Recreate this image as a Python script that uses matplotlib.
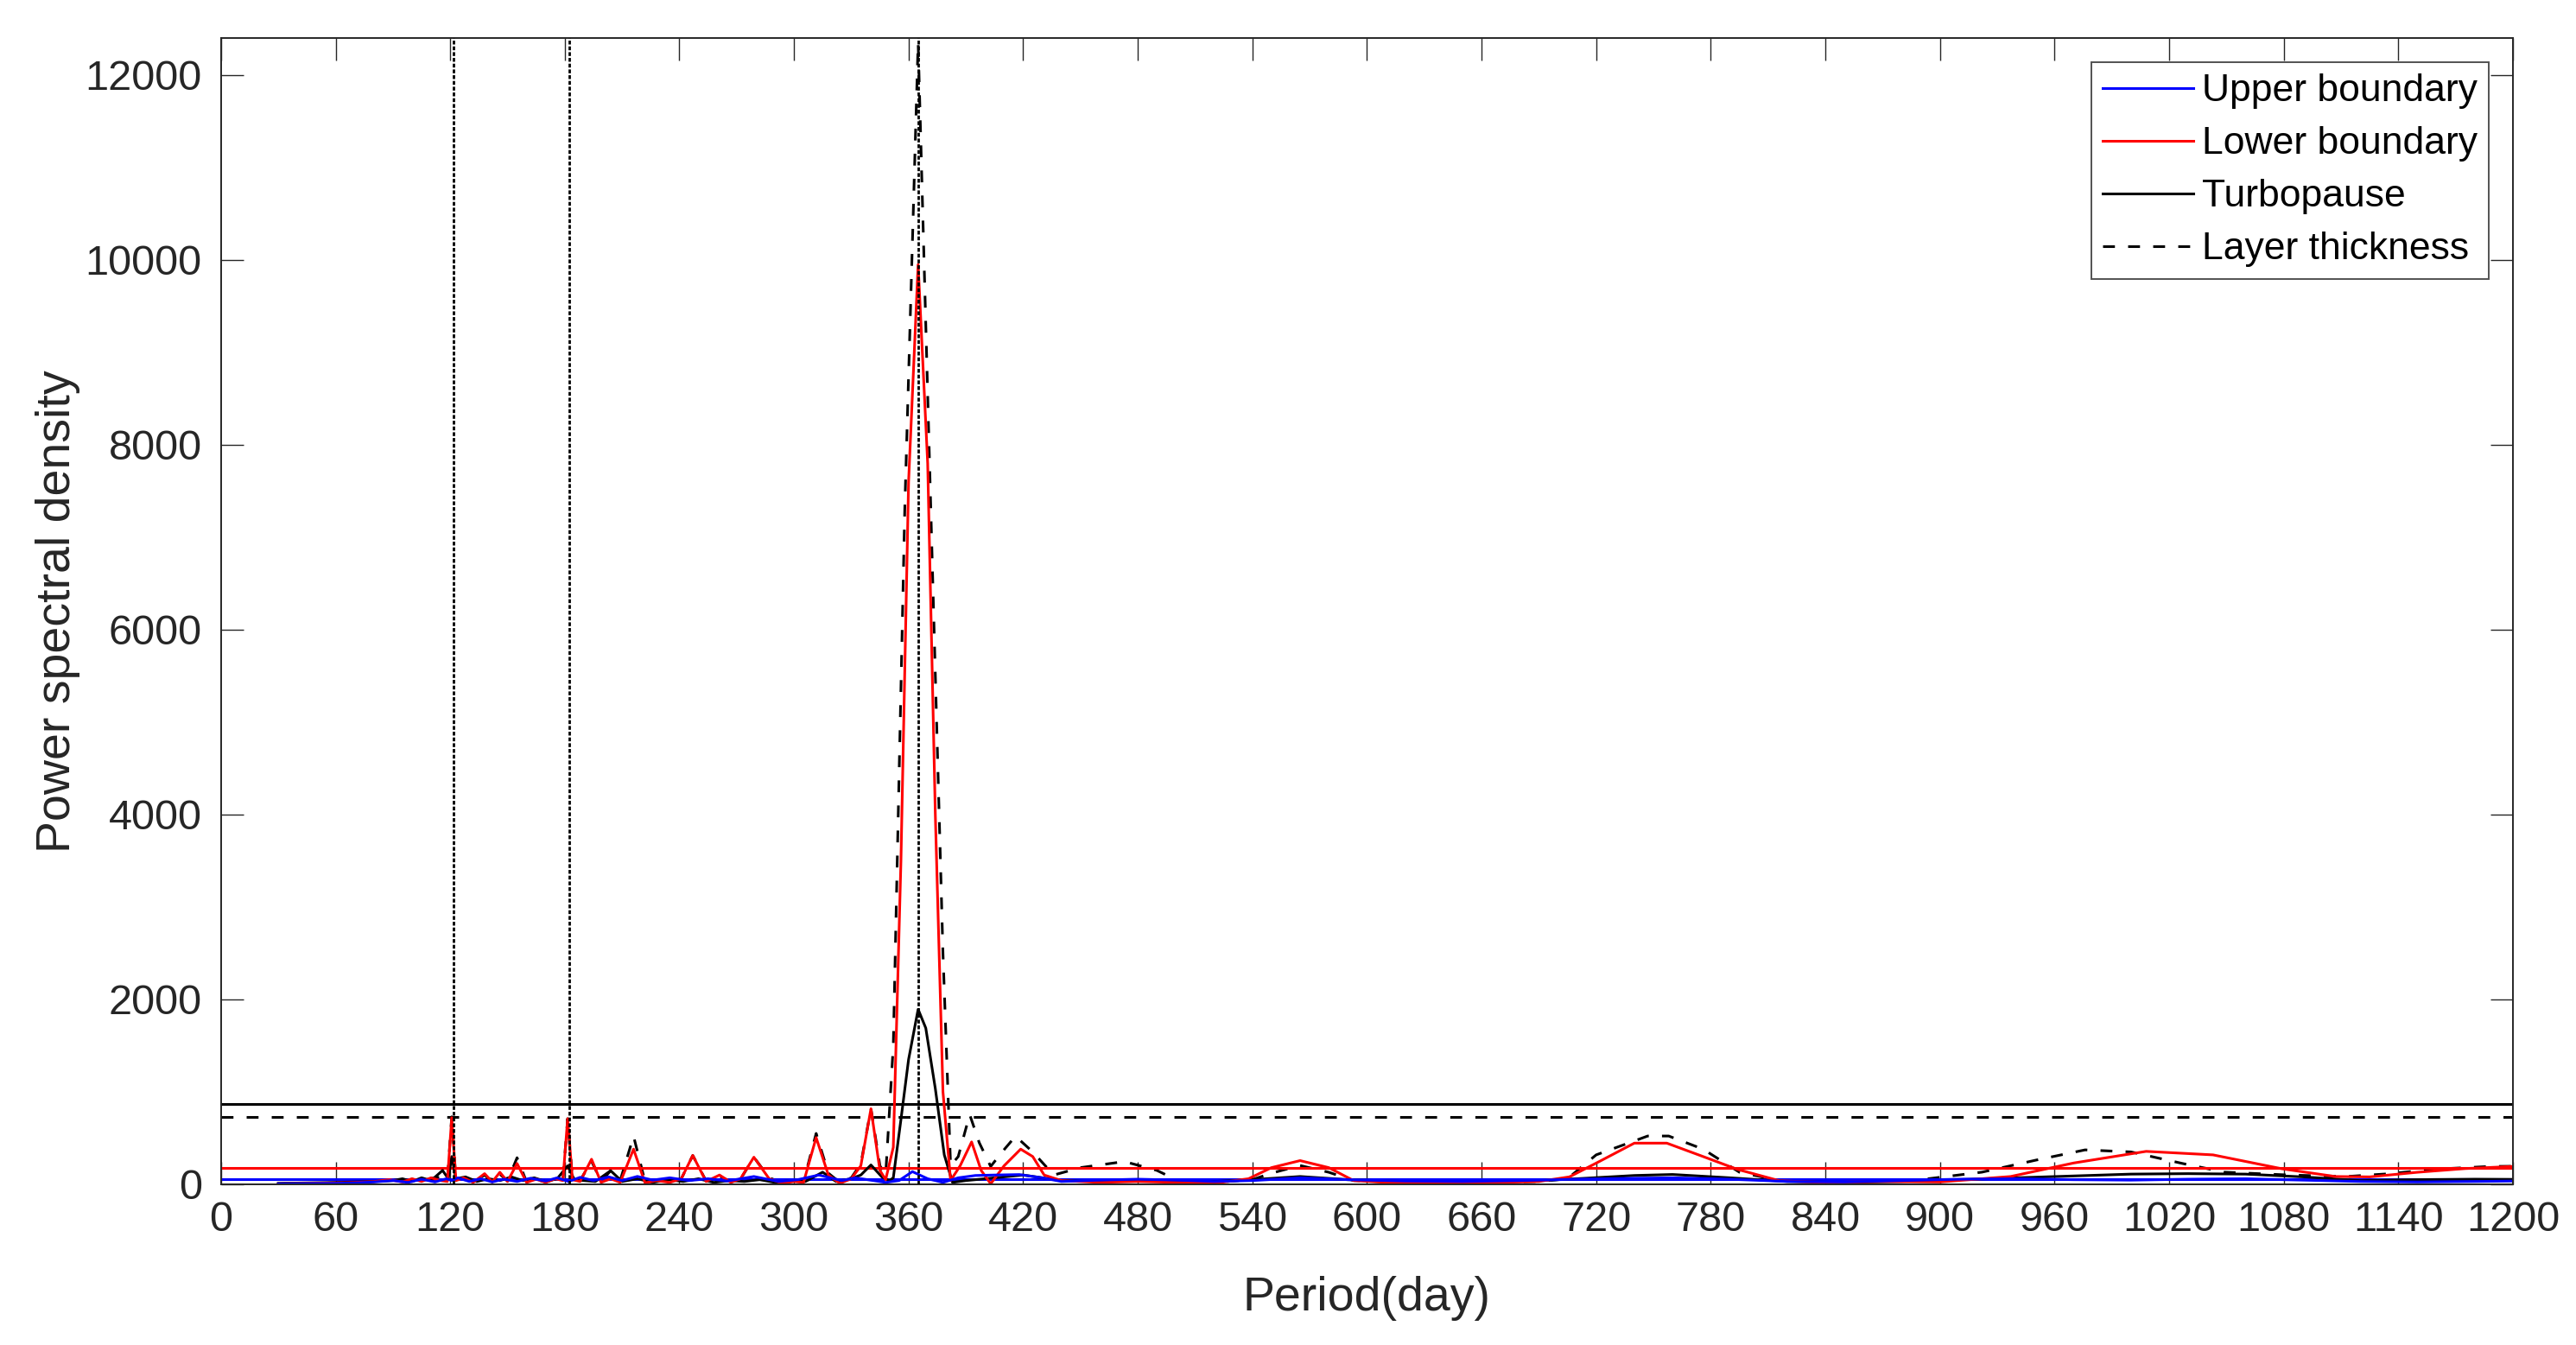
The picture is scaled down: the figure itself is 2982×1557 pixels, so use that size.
import matplotlib.pyplot as plt

plt.rcParams['font.family'] = ['Liberation Sans', 'DejaVu Sans']

# Upper boundary
ub_period = [30, 45, 60, 70, 80, 90, 98, 105, 112, 118, 121, 124, 130, 136, 142, 148, 155, 162, 170, 176,
             182, 188, 195, 203, 210, 218, 226, 235, 245, 255, 265, 279, 292, 302, 313, 325, 332, 340, 348,
             355, 362, 370, 378, 386, 395, 405, 418, 430, 440, 460, 480, 500, 520, 540, 565, 590, 620, 650,
             680, 710, 740, 760, 790, 820, 850, 880, 910, 940, 970, 1000, 1030, 1060, 1090, 1120, 1150,
             1180, 1200]
ub_psd = [5, 8, 10, 15, 25, 40, 20, 55, 25, 60, 40, 70, 30, 60, 25, 55, 30, 65, 35, 70,
          30, 75, 40, 80, 40, 85, 45, 70, 40, 60, 35, 84, 30, 50, 100, 40, 70, 45, 20,
          40, 137, 60, 20, 70, 95, 100, 105, 70, 30, 45, 55, 45, 30, 40, 70, 50, 35, 30,
          40, 55, 65, 70, 55, 30, 25, 40, 55, 60, 50, 45, 55, 60, 45, 30, 25,
          30, 35]

# Lower boundary
lb_period = [30, 45, 60, 70, 80, 88, 95, 100, 105, 110, 115, 118.5, 120.8, 123, 127, 132, 138, 142, 146, 150,
             155, 160, 165, 170, 175, 179, 181.5, 184, 188, 194, 199, 204, 209, 216, 222, 228, 235, 241,
             247, 254, 261, 267, 272, 279, 287, 294, 300, 305, 311.6, 318, 324, 330, 335, 340.3, 345, 348,
             352, 356, 360, 365, 370, 374, 378, 382, 387, 393, 398, 403, 410, 418.7, 425, 431, 440, 460,
             480, 500, 520, 538, 550, 565, 580, 593, 610, 640, 670, 690, 706, 722, 740, 757, 776, 794,
             816, 840, 870, 900, 937, 970, 1008, 1043, 1079, 1107, 1125, 1150, 1175, 1200]
lb_psd = [5, 10, 15, 20, 30, 50, 25, 60, 30, 70, 40, 30, 720, 40, 70, 20, 115, 25, 130, 30,
          225, 20, 55, 20, 60, 40, 710, 50, 30, 271, 20, 60, 20, 380, 15, 40, 20, 60,
          312, 30, 100, 20, 60, 293, 60, 10, 30, 20, 505, 100, 10, 60, 200, 817, 150, 50,
          400, 3500, 7600, 9950, 7800, 4000, 1000, 40, 200, 458, 150, 5, 200, 380, 300, 100, 40, 20,
          30, 20, 10, 60, 180, 256, 180, 40, 20, 15, 20, 30, 80, 250, 445, 445, 300, 161,
          38, 20, 30, 25, 84, 230, 356, 318, 168, 84, 80, 130, 170, 193]

# Turbopause
tp_period = [30, 45, 60, 70, 80, 90, 95, 100, 105, 110, 116, 119, 120.8, 123, 128, 134, 140, 146, 152, 158,
             164, 170, 176, 181.5, 185, 190, 196, 204, 210, 218, 226, 234, 242, 250, 258, 266, 274, 282,
             290, 298, 306, 315, 322, 330, 335, 340.3, 346, 350, 352, 356, 360, 365, 369, 374, 378.7, 383,
             390, 400, 410, 420, 430, 440, 460, 480, 500, 520, 540, 565, 590, 620, 650, 680, 710, 740,
             760, 790, 820, 850, 880, 910, 940, 970, 1000, 1030, 1060, 1090, 1120, 1150, 1180, 1200]
tp_psd = [10, 15, 20, 25, 30, 40, 60, 30, 70, 40, 150, 60, 300, 60, 80, 30, 60, 40, 80, 40,
          70, 30, 60, 200, 50, 40, 30, 147, 30, 60, 20, 50, 30, 60, 20, 40, 30, 50,
          20, 40, 30, 131, 30, 60, 100, 209, 80, 40, 70, 700, 1350, 1893, 1690, 1035, 318, 20,
          40, 60, 80, 100, 70, 40, 30, 40, 30, 30, 50, 84, 50, 30, 20, 30, 60, 95,
          106, 70, 30, 20, 30, 50, 70, 90, 110, 115, 110, 80, 40, 50, 55, 53]

# Layer thickness
lt_period = [30, 45, 60, 70, 80, 88, 95, 100, 105, 110, 116, 118.5, 120.8, 123, 127, 132, 138, 142, 146, 150,
             155, 160, 165, 170, 175, 179, 181.5, 184, 188, 194, 199, 204, 209, 216, 222, 228, 235, 241,
             247, 254, 261, 267, 272, 279, 287, 294, 300, 305, 311.6, 318, 324, 330, 335, 340.3, 345, 348,
             352, 358, 365, 372, 378, 382, 386, 392, 397, 403, 409, 416, 425, 436, 450, 473, 490, 500,
             520, 540, 550, 565, 580, 593, 620, 660, 690, 705, 720, 747, 758, 776, 795, 816, 850, 890,
             922, 950, 976, 1000, 1027, 1049, 1083, 1113, 1136, 1158, 1188, 1200]
lt_psd = [5, 10, 15, 20, 30, 45, 25, 55, 30, 65, 80, 40, 730, 50, 60, 25, 100, 30, 110, 35,
          287, 25, 50, 25, 55, 45, 710, 60, 40, 250, 30, 147, 40, 520, 30, 50, 25, 60,
          312, 35, 90, 25, 55, 293, 70, 15, 35, 25, 550, 120, 20, 70, 220, 817, 200, 100,
          1500, 7300, 12350, 7022, 2500, 200, 300, 754, 450, 193, 350, 520, 350, 100, 180, 246, 150, 50,
          20, 50, 120, 203, 130, 40, 20, 20, 30, 60, 318, 522, 522, 380, 131, 40, 30, 50,
          131, 260, 372, 350, 225, 131, 100, 84, 115, 162, 193, 195]

# significance levels
sig_ub = 60
sig_lb = 175
sig_tp = 864
sig_lt = 724

# marked periods (annual, semiannual, terannual)
ref_periods = [365 / 3, 365 / 2, 365]

xticks = list(range(0, 1201, 60))
yticks = list(range(0, 12001, 2000))

fig = plt.figure(figsize=(14.91, 7.785), dpi=200)
ax = fig.add_axes([0.0858, 0.1195, 0.8897, 0.8522])

lw = 1.1
dash = (0, (4.5, 5))
l_lt, = ax.plot(lt_period, lt_psd, color='k', lw=lw, linestyle=dash, zorder=2)
l_tp, = ax.plot(tp_period, tp_psd, color='k', lw=lw, zorder=2.1)
l_lb, = ax.plot(lb_period, lb_psd, color='#ff0000', lw=lw, zorder=2.2)
l_ub, = ax.plot(ub_period, ub_psd, color='#0000ff', lw=lw, zorder=2.3)

ax.axhline(sig_tp, color='k', lw=lw)
ax.axhline(sig_lt, color='k', lw=lw, linestyle=dash)
ax.axhline(sig_lb, color='#ff0000', lw=lw)
ax.axhline(sig_ub, color='#0000ff', lw=lw)

for p in ref_periods:
    ax.axvline(p, color='k', lw=1.0, linestyle=(0, (1.6, 0.8)), zorder=3)

ax.set_xlim(0, 1200)
ax.set_ylim(0, 12400)
ax.set_xticks(xticks)
ax.set_yticks(yticks)
ax.tick_params(direction='in', length=9.3, width=0.5, top=True, right=True,
               labelsize=17.5, colors='#262626', pad=7)
ax.tick_params(axis='y', pad=8)
for s in ax.spines.values():
    s.set_linewidth(0.7)
    s.set_color('#262626')

ax.set_xlabel('Period(day)', fontsize=20, color='#262626', labelpad=15)
ax.set_ylabel('Power spectral density', fontsize=20, color='#262626', labelpad=2)

leg = ax.legend([l_ub, l_lb, l_tp, l_lt],
                ['Upper boundary', 'Lower boundary', 'Turbopause', 'Layer thickness'],
                loc='upper right', fontsize=16, frameon=True, fancybox=False,
                handlelength=2.35, handletextpad=0.22, labelspacing=0.45,
                borderpad=0.3, borderaxespad=0.63)
leg.get_frame().set_edgecolor('#262626')
leg.get_frame().set_linewidth(0.7)

fig.savefig('out.png', dpi=200)
